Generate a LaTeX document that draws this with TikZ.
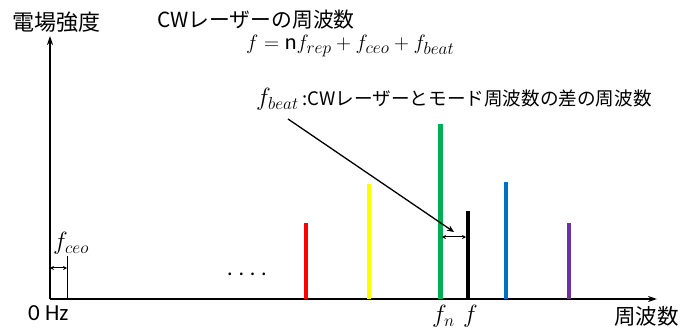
\documentclass[tikz,border=0pt]{standalone}
\usepackage{fontspec}
\setmainfont{Carlito}
\newfontfamily\jp{Noto Sans CJK JP}
\usetikzlibrary{arrows.meta}
\renewcommand{\defaultscriptratio}{0.76}
\definecolor{ogreen}{RGB}{0,176,80}
\definecolor{oblue}{RGB}{0,112,192}
\definecolor{opurple}{RGB}{112,48,160}
\definecolor{oyellow}{RGB}{255,255,0}
\tikzset{
  axis/.style={line width=1.8pt,-{Stealth[length=9pt,width=6pt]}},
  spec/.style={line width=3.5pt},
  dbl/.style={line width=1pt,{Stealth[length=4pt,width=4pt]}-{Stealth[length=4pt,width=4pt]}},
  lbl/.style={inner sep=0pt,anchor=base west},
}
\begin{document}
\begin{tikzpicture}[x=1pt,y=-1pt]
\useasboundingbox (0,0) rectangle (681,331);
% axes
\coordinate (O) at (50,299);
\coordinate (xe) at (657,299);
\coordinate (ye) at (50,36);
\draw[axis] (O) -- (xe);
\draw[axis] (O) -- (ye);
% labels
\node[lbl,font=\jp\fontsize{22}{22}\selectfont] (ylab) at (12,31) {電場強度};
\node[lbl,font=\jp\fontsize{21.5}{21.5}\selectfont] (xlab) at (614,325) {周波数};
\node[lbl,font=\fontsize{23}{23}\selectfont] (zero) at (28,321) {0 Hz};
\node[lbl,font=\jp\fontsize{20.8}{20.8}\selectfont] (cwt) at (157,28) {CWレーザーの周波数};
\node[lbl,font=\fontsize{22.3}{22.3}\selectfont] (eq) at (246,50) {$f = \mathrm{n}f_{rep} + f_{ceo} + f_{beat}$};
\node[lbl,font=\fontsize{23.5}{23.5}\selectfont] (fb) at (256,106) {$f_{beat}$\,{\jp\fontsize{18.6}{18.6}\selectfont :CWレーザーとモード周波数の差の周波数}};
\node[lbl,font=\fontsize{22}{22}\selectfont] (dots) at (227,276) {.\hspace{5.8pt}.\hspace{5.8pt}.\hspace{5.8pt}.};
% f_ceo
\coordinate (c0) at (50,268);
\coordinate (cb) at (67,299);
\coordinate (ct) at (67,256);
\coordinate (c1) at (67,268);
\draw[line width=0.5pt] (cb) -- (ct);
\draw[dbl] (c0) -- (c1);
\node[lbl,font=\fontsize{24}{24}\selectfont] (fceo) at (53,250) {$f_{ceo}$};
% spectral lines
\coordinate (rb) at (306,299); \coordinate (rt) at (306,223);
\coordinate (yb) at (369,299); \coordinate (yt) at (369,184);
\coordinate (gb) at (440,299); \coordinate (gt) at (440,124);
\coordinate (kb) at (468,299); \coordinate (kt) at (468,211);
\coordinate (bb) at (506,299); \coordinate (bt) at (506,182);
\coordinate (pb) at (569,299); \coordinate (pt) at (569,223);
\draw[spec,red] (rb) -- (rt);
\draw[spec,oyellow] (yb) -- (yt);
\draw[spec,ogreen,line width=5pt] (gb) -- (gt);
\draw[spec,black] (kb) -- (kt);
\draw[spec,oblue] (bb) -- (bt);
\draw[spec,opurple] (pb) -- (pt);
% beat
\coordinate (d0) at (442,237);
\coordinate (d1) at (466,237);
\draw[dbl] (d0) -- (d1);
\coordinate (as) at (288,119);
\coordinate (ae) at (454,232);
\draw[line width=1.3pt,-{Stealth[length=7pt,width=6pt]}] (as) -- (ae);
\node[lbl,font=\fontsize{23}{23}\selectfont] (fn) at (432,323) {$f_n$};
\node[lbl,font=\fontsize{23}{23}\selectfont] (ff) at (463,323) {$f$};
\end{tikzpicture}
\end{document}
